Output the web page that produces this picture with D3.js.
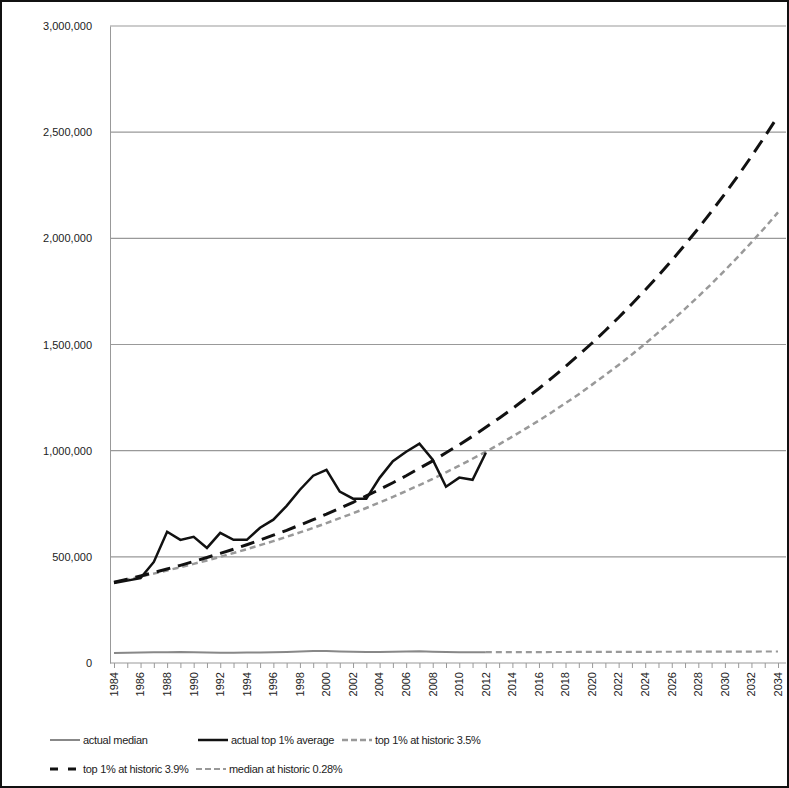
<!DOCTYPE html>
<html><head><meta charset="utf-8">
<script src="https://cdn.jsdelivr.net/npm/d3@7"></script>
<style>
body{margin:0;background:#fff;}
svg{font-family:"Liberation Sans",Arial,sans-serif;}
</style></head><body>
<svg id="chart" width="789" height="788"></svg>
<script>
// values in thousands of dollars
const years = d3.range(1984, 2035);
const actualYears = d3.range(1984, 2013);
const projYears = d3.range(2012, 2035);

const actualMedian = [47,48,50,51,51,52,51,49,48,48,49,50,51,52,54,56,56,54,53,52,52,53,54,55,53,52,51,51,51];
const actualTop = [377,388,400,476,618,580,594,542,613,580,580,637,675,740,816,882,910,807,774,774,872,950,995,1033,957,830,873,863,990];
const top35 = [380,393,407,421,436,451,467,483,500,518,536,555,574,594,615,636,659,682,705,730,756,782,810,838,867,898,929,962,995,1030,1066,1104,1142,1182,1224,1266,1311,1357,1404,1453,1504,1557,1611,1668,1726,1786,1849,1914,1981,2050,2122];
const top39 = [380,395,410,426,443,460,478,497,516,536,557,579,602,625,650,675,701,729,757,787,817,849,882,917,952,990,1028,1068,1110,1153,1198,1245,1293,1344,1396,1451,1507,1566,1627,1691,1757,1825,1896,1970,2047,2127,2210,2296,2386,2479,2576];
const medianProj = [51.0,51.1,51.3,51.4,51.6,51.7,51.9,52.0,52.1,52.3,52.4,52.6,52.7,52.9,53.0,53.2,53.3,53.5,53.6,53.8,53.9,54.1,54.2];
const yTicks = [0,500000,1000000,1500000,2000000,2500000,3000000];

const svg = d3.select('#chart');
svg.append('rect').attr('x',1).attr('y',1).attr('width',787).attr('height',786)
  .attr('fill','#fff').attr('stroke','#111').attr('stroke-width',2);

const x = d3.scaleLinear().domain([1984, 2034]).range([114, 778]);
const y = d3.scaleLinear().domain([0, 3000000]).range([663, 26]);

// grid
svg.append('g').selectAll('line').data(yTicks.slice(1)).join('line')
  .attr('x1',110).attr('x2',786).attr('y1',d=>y(d)).attr('y2',d=>y(d))
  .attr('stroke','#999').attr('stroke-width',1.2);

const yAxis = svg.append('g').attr('transform','translate(110,0)')
  .call(d3.axisLeft(y).tickValues(yTicks).tickFormat(d3.format(',')).tickSize(0).tickPadding(18));
yAxis.select('.domain').attr('stroke','#999');
yAxis.selectAll('text').attr('font-size',11).attr('fill','#222');

const xAxis = svg.append('g').attr('transform','translate(0,'+y(0)+')')
  .call(d3.axisBottom(x).tickValues(years).tickSize(5).tickFormat(''));
xAxis.select('.domain').attr('stroke','#999').attr('d','M110,0H786');
xAxis.selectAll('line').attr('stroke','#999');

// rotated year labels, every second year
const yl = svg.append('g').selectAll('g').data(years.filter(d => d % 2 === 0)).join('g')
  .attr('transform', d => `translate(${x(d)},${y(0) + 9})`);
yl.append('g').attr('transform','rotate(-90)')
  .append('text').attr('text-anchor','end').attr('dy','0.35em')
  .attr('font-size',11).attr('fill','#222').text(d => d);

const line = d3.line().x(d=>x(d[0])).y(d=>y(d[1]*1000));
const zip = (a,b)=>a.map((v,i)=>[v,b[i]]);

const series = [
  {data: zip(actualYears, actualMedian), color:'#888', width:2, dash:null, ldash:null, label:'actual median'},
  {data: zip(projYears, medianProj), color:'#999', width:2.2, dash:'6,4', ldash:'6,3', label:'median at historic 0.28%'},
  {data: zip(years, top35), color:'#999', width:2.5, dash:'6,4', ldash:'6,3', label:'top 1% at historic 3.5%'},
  {data: zip(years, top39), color:'#111', width:3, dash:'14,8', ldash:'8,10', label:'top 1% at historic 3.9%'},
  {data: zip(actualYears, actualTop), color:'#111', width:2.5, dash:null, ldash:null, label:'actual top 1% average'}
];
svg.append('g').selectAll('path').data(series).join('path')
  .attr('d', s=>line(s.data)).attr('fill','none')
  .attr('stroke', s=>s.color).attr('stroke-width', s=>s.width)
  .attr('stroke-dasharray', s=>s.dash);

// legend
const legendItems = [
  [series[0], 50, 740], [series[4], 198, 740], [series[2], 342, 740],
  [series[3], 50, 769], [series[1], 196, 769]
];
const lg = svg.append('g').selectAll('g').data(legendItems).join('g')
  .attr('transform', d=>`translate(${d[1]},${d[2]})`);
lg.append('line').attr('x1',0).attr('x2',30).attr('stroke',d=>d[0].color)
  .attr('stroke-width',d=>d[0].width).attr('stroke-dasharray',d=>d[0].ldash);
lg.append('text').attr('x',33).attr('dy','0.35em').attr('font-size',11).attr('fill','#222')
  .attr('letter-spacing','-0.3').text(d=>d[0].label);
</script></body></html>
